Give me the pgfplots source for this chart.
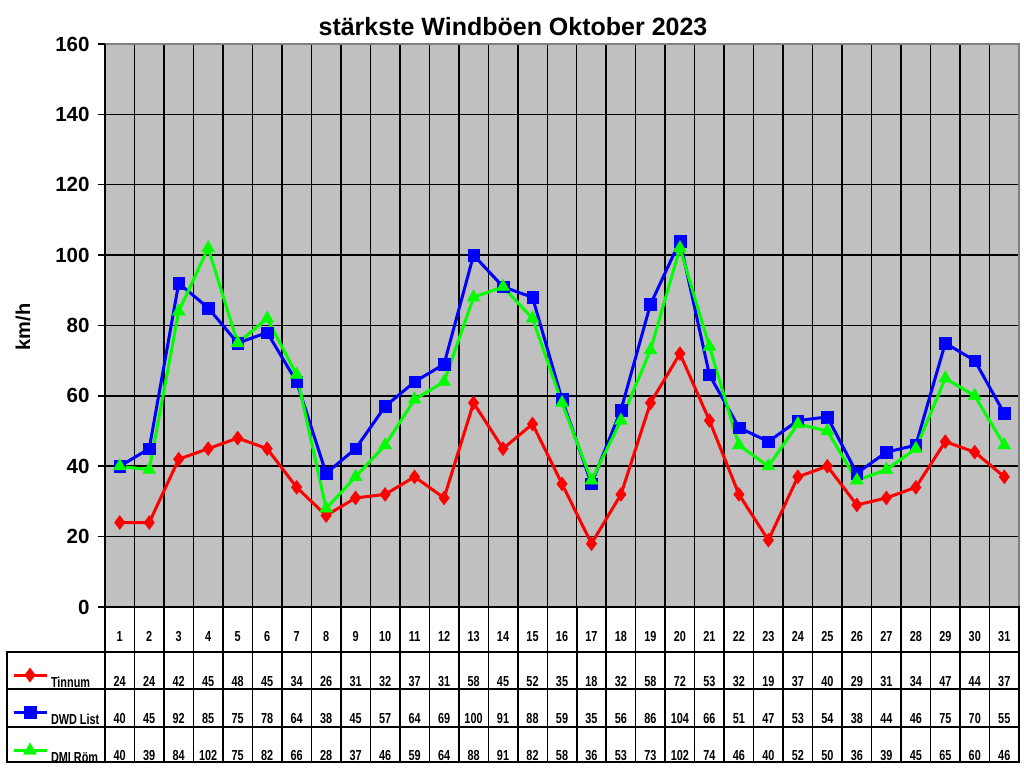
\documentclass[border=0pt]{standalone}
\usepackage{fontspec}
\setmainfont{Liberation Sans}
\newfontfamily\tablefont[FakeStretch=0.75]{Liberation Sans}
\usepackage{pgfplots}
\usepackage{pgfplotstable}
\pgfplotsset{compat=1.18}
\definecolor{bggray}{HTML}{C0C0C0}
\definecolor{framegray}{HTML}{808080}
\definecolor{myred}{HTML}{FF0000}
\definecolor{myblue}{HTML}{0000FF}
\definecolor{mygreen}{HTML}{00FF00}
\pgfplotstableread{
day tinnum dwd dmi
1 24 40 40
2 24 45 39
3 42 92 84
4 45 85 102
5 48 75 75
6 45 78 82
7 34 64 66
8 26 38 28
9 31 45 37
10 32 57 46
11 37 64 59
12 31 69 64
13 58 100 88
14 45 91 91
15 52 88 82
16 35 59 58
17 18 35 36
18 32 56 53
19 58 86 73
20 72 104 102
21 53 66 74
22 32 51 46
23 19 47 40
24 37 53 52
25 40 54 50
26 29 38 36
27 31 44 39
28 34 46 45
29 47 75 65
30 44 70 60
31 37 55 46
}\data
\begin{document}
\begin{tikzpicture}
\path[use as bounding box] (0pt,0pt) rectangle (1024pt,768pt);
\begin{axis}[
  at={(105pt,161pt)}, anchor=south west, scale only axis,
  width=914pt, height=563pt,
  xmin=0.5, xmax=31.5, ymin=0, ymax=160,
  xtick={1.5,2.5,...,30.5}, xticklabels={},
  ytick={0,20,...,160},
  grid=major, grid style={black, line width=1.5pt},
  axis background/.style={fill=bggray},
  axis line style={draw=none},
  ytick pos=left, tick align=outside, major tick length=7pt,
  xtick style={draw=none}, ytick style={black, line width=1.5pt},
  yticklabel style={font=\fontsize{20.5}{24}\selectfont\bfseries, xshift=-5pt},
  /pgf/number format/assume math mode=true,
  clip=false,
  legend cell align=left,
  legend style={at={(-0.10175,-0.10835)}, anchor=north west, draw=none, fill=none,
    inner sep=0pt, outer sep=0pt, row sep=11pt, column sep=3pt,
    font=\tablefont\fontsize{14.5}{17}\selectfont\bfseries,
    nodes={inner sep=0pt, text height=18pt, text depth=8pt}},
  legend image code/.code={\draw[mark repeat=2,mark phase=2] plot coordinates {(0pt,7pt)(16.5pt,7pt)(33pt,7pt)};},
]
\addplot[myred, line width=3pt, mark=diamond*, mark size=7pt, mark options={solid, line width=0.4pt}] table[x=day,y=tinnum]{\data};
\addlegendentry{Tinnum}
\addplot[myblue, line width=3pt, mark=square*, mark size=5.8pt, mark options={solid, line width=0.4pt}] table[x=day,y=dwd]{\data};
\addlegendentry{DWD List}
\addplot[mygreen, line width=3pt, mark=triangle*, mark size=7.5pt, mark options={solid, line width=0.4pt}] table[x=day,y=dmi]{\data};
\addlegendentry{DMI Röm}
\draw[framegray, line width=1.5pt] (rel axis cs:0,1) -- (rel axis cs:1,1) -- (rel axis cs:1,0);
\draw[black, line width=1.5pt] (rel axis cs:0,1) -- (rel axis cs:0,0) -- (rel axis cs:1,0);
\end{axis}
\begin{axis}[
  at={(105pt,6pt)}, anchor=south west, scale only axis,
  width=914pt, height=155pt,
  xmin=0.5, xmax=31.5, ymin=6, ymax=161,
  xtick={1.5,2.5,...,30.5}, ytick={41,79,116},
  xticklabels={}, yticklabels={},
  major tick length=0pt,
  grid=major, grid style={black, line width=1.5pt},
  axis line style={black, line width=1.5pt},
  clip=false,
  nodes near coords, point meta=explicit symbolic,
  every node near coord/.append style={font=\tablefont\fontsize{14.5}{17}\selectfont\bfseries, inner sep=0pt, text height=10.4pt, text depth=0pt, anchor=center, text=black},
]
\addplot[black, draw=none, mark=none] table[x=day, y expr=132, meta=day]{\data};
\addplot[black, draw=none, mark=none] table[x=day, y expr=87, meta=tinnum]{\data};
\addplot[black, draw=none, mark=none] table[x=day, y expr=50, meta=dwd]{\data};
\addplot[black, draw=none, mark=none] table[x=day, y expr=13, meta=dmi]{\data};
\end{axis}
\draw[black, line width=1.5pt] (7pt,116pt) -- (105pt,116pt);
\draw[black, line width=1.5pt] (7pt,79pt) -- (105pt,79pt);
\draw[black, line width=1.5pt] (7pt,41pt) -- (105pt,41pt);
\draw[black, line width=1.5pt] (7pt,6pt) -- (105pt,6pt);
\draw[black, line width=1.5pt] (7pt,116.75pt) -- (7pt,5.25pt);
\node[anchor=base, font=\fontsize{25}{29}\selectfont\bfseries] at (513pt,732pt) {stärkste Windböen Oktober 2023};
\node[rotate=90, font=\fontsize{20}{24}\selectfont\bfseries] at (23pt,441pt) {km/h};
\end{tikzpicture}
\end{document}
